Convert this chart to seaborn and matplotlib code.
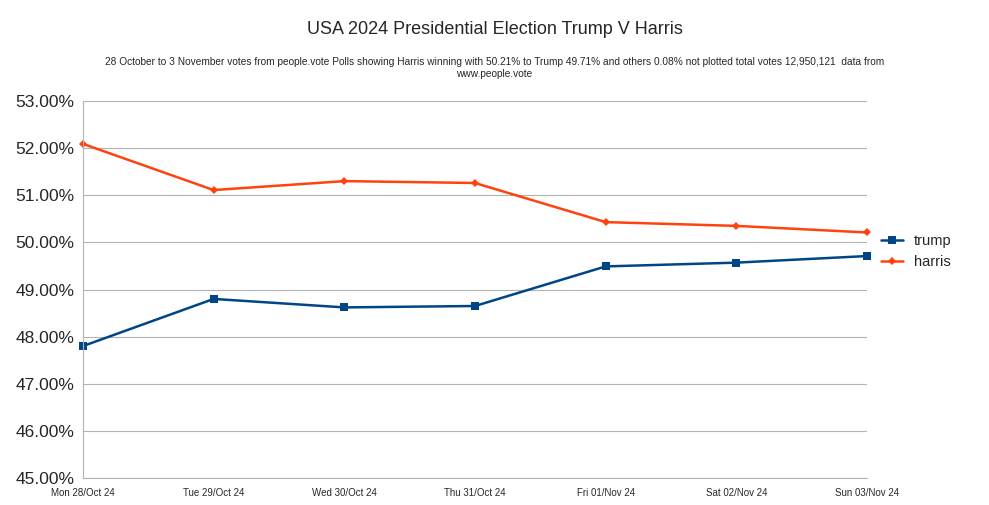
import matplotlib
matplotlib.use("Agg")
import matplotlib.pyplot as plt
import matplotlib.ticker as mticker
import seaborn as sns
import pandas as pd

sns.set_style("white")
plt.rcParams["font.family"] = ["Liberation Sans", "DejaVu Sans"]

dates = ["Mon 28/Oct 24", "Tue 29/Oct 24", "Wed 30/Oct 24", "Thu 31/Oct 24",
         "Fri 01/Nov 24", "Sat 02/Nov 24", "Sun 03/Nov 24"]
trump = [47.80, 48.80, 48.62, 48.65, 49.49, 49.57, 49.71]
harris = [52.09, 51.11, 51.30, 51.26, 50.43, 50.35, 50.21]

df = pd.DataFrame({"x": range(len(dates)), "trump": trump, "harris": harris})

fig = plt.figure(figsize=(9.89, 5.05), dpi=100)
ax = fig.add_axes([83 / 989, 1 - 478 / 505, (867 - 83) / 989, (478 - 101) / 505])

sns.lineplot(data=df, x="x", y="trump", ax=ax, color="#004586", marker="s",
             markersize=6, markeredgewidth=0, linewidth=1.8, label="trump",
             clip_on=False)
sns.lineplot(data=df, x="x", y="harris", ax=ax, color="#ff420e", marker="D",
             markersize=4, markeredgewidth=0, linewidth=1.8, label="harris",
             clip_on=False)

ax.set_xlim(0, len(dates) - 1)
ax.set_ylim(45, 53)
ax.set_xticks(range(len(dates)))
ax.set_xticklabels(dates, fontsize=7)
ax.yaxis.set_major_formatter(mticker.FuncFormatter(lambda v, p: f"{v:.2f}%"))
ax.tick_params(axis="y", labelsize=12.5, length=0, pad=6)
ax.tick_params(axis="x", length=0, pad=7)
ax.grid(axis="y", color="#b3b3b3", linewidth=0.8)
for side in ["top", "right"]:
    ax.spines[side].set_visible(False)
ax.spines["left"].set_color("#b3b3b3")
ax.spines["bottom"].set_color("#b3b3b3")
ax.set_xlabel("")
ax.set_ylabel("")

ax.legend(loc="center left", bbox_to_anchor=(1.01, 0.6), frameon=False,
          fontsize=10.5, handlelength=1.5, borderaxespad=0)

fig.text(0.5, 1 - 30 / 505, "USA 2024 Presidential Election Trump V Harris",
         ha="center", va="center", fontsize=13)
fig.text(0.5, 1 - 68 / 505,
         "28 October to 3 November votes from people.vote Polls showing Harris winning with 50.21% to Trump 49.71% and others 0.08% not plotted total votes 12,950,121  data from\nwww.people.vote",
         ha="center", va="center", fontsize=7.3)

fig.savefig("out.png", dpi=100)
